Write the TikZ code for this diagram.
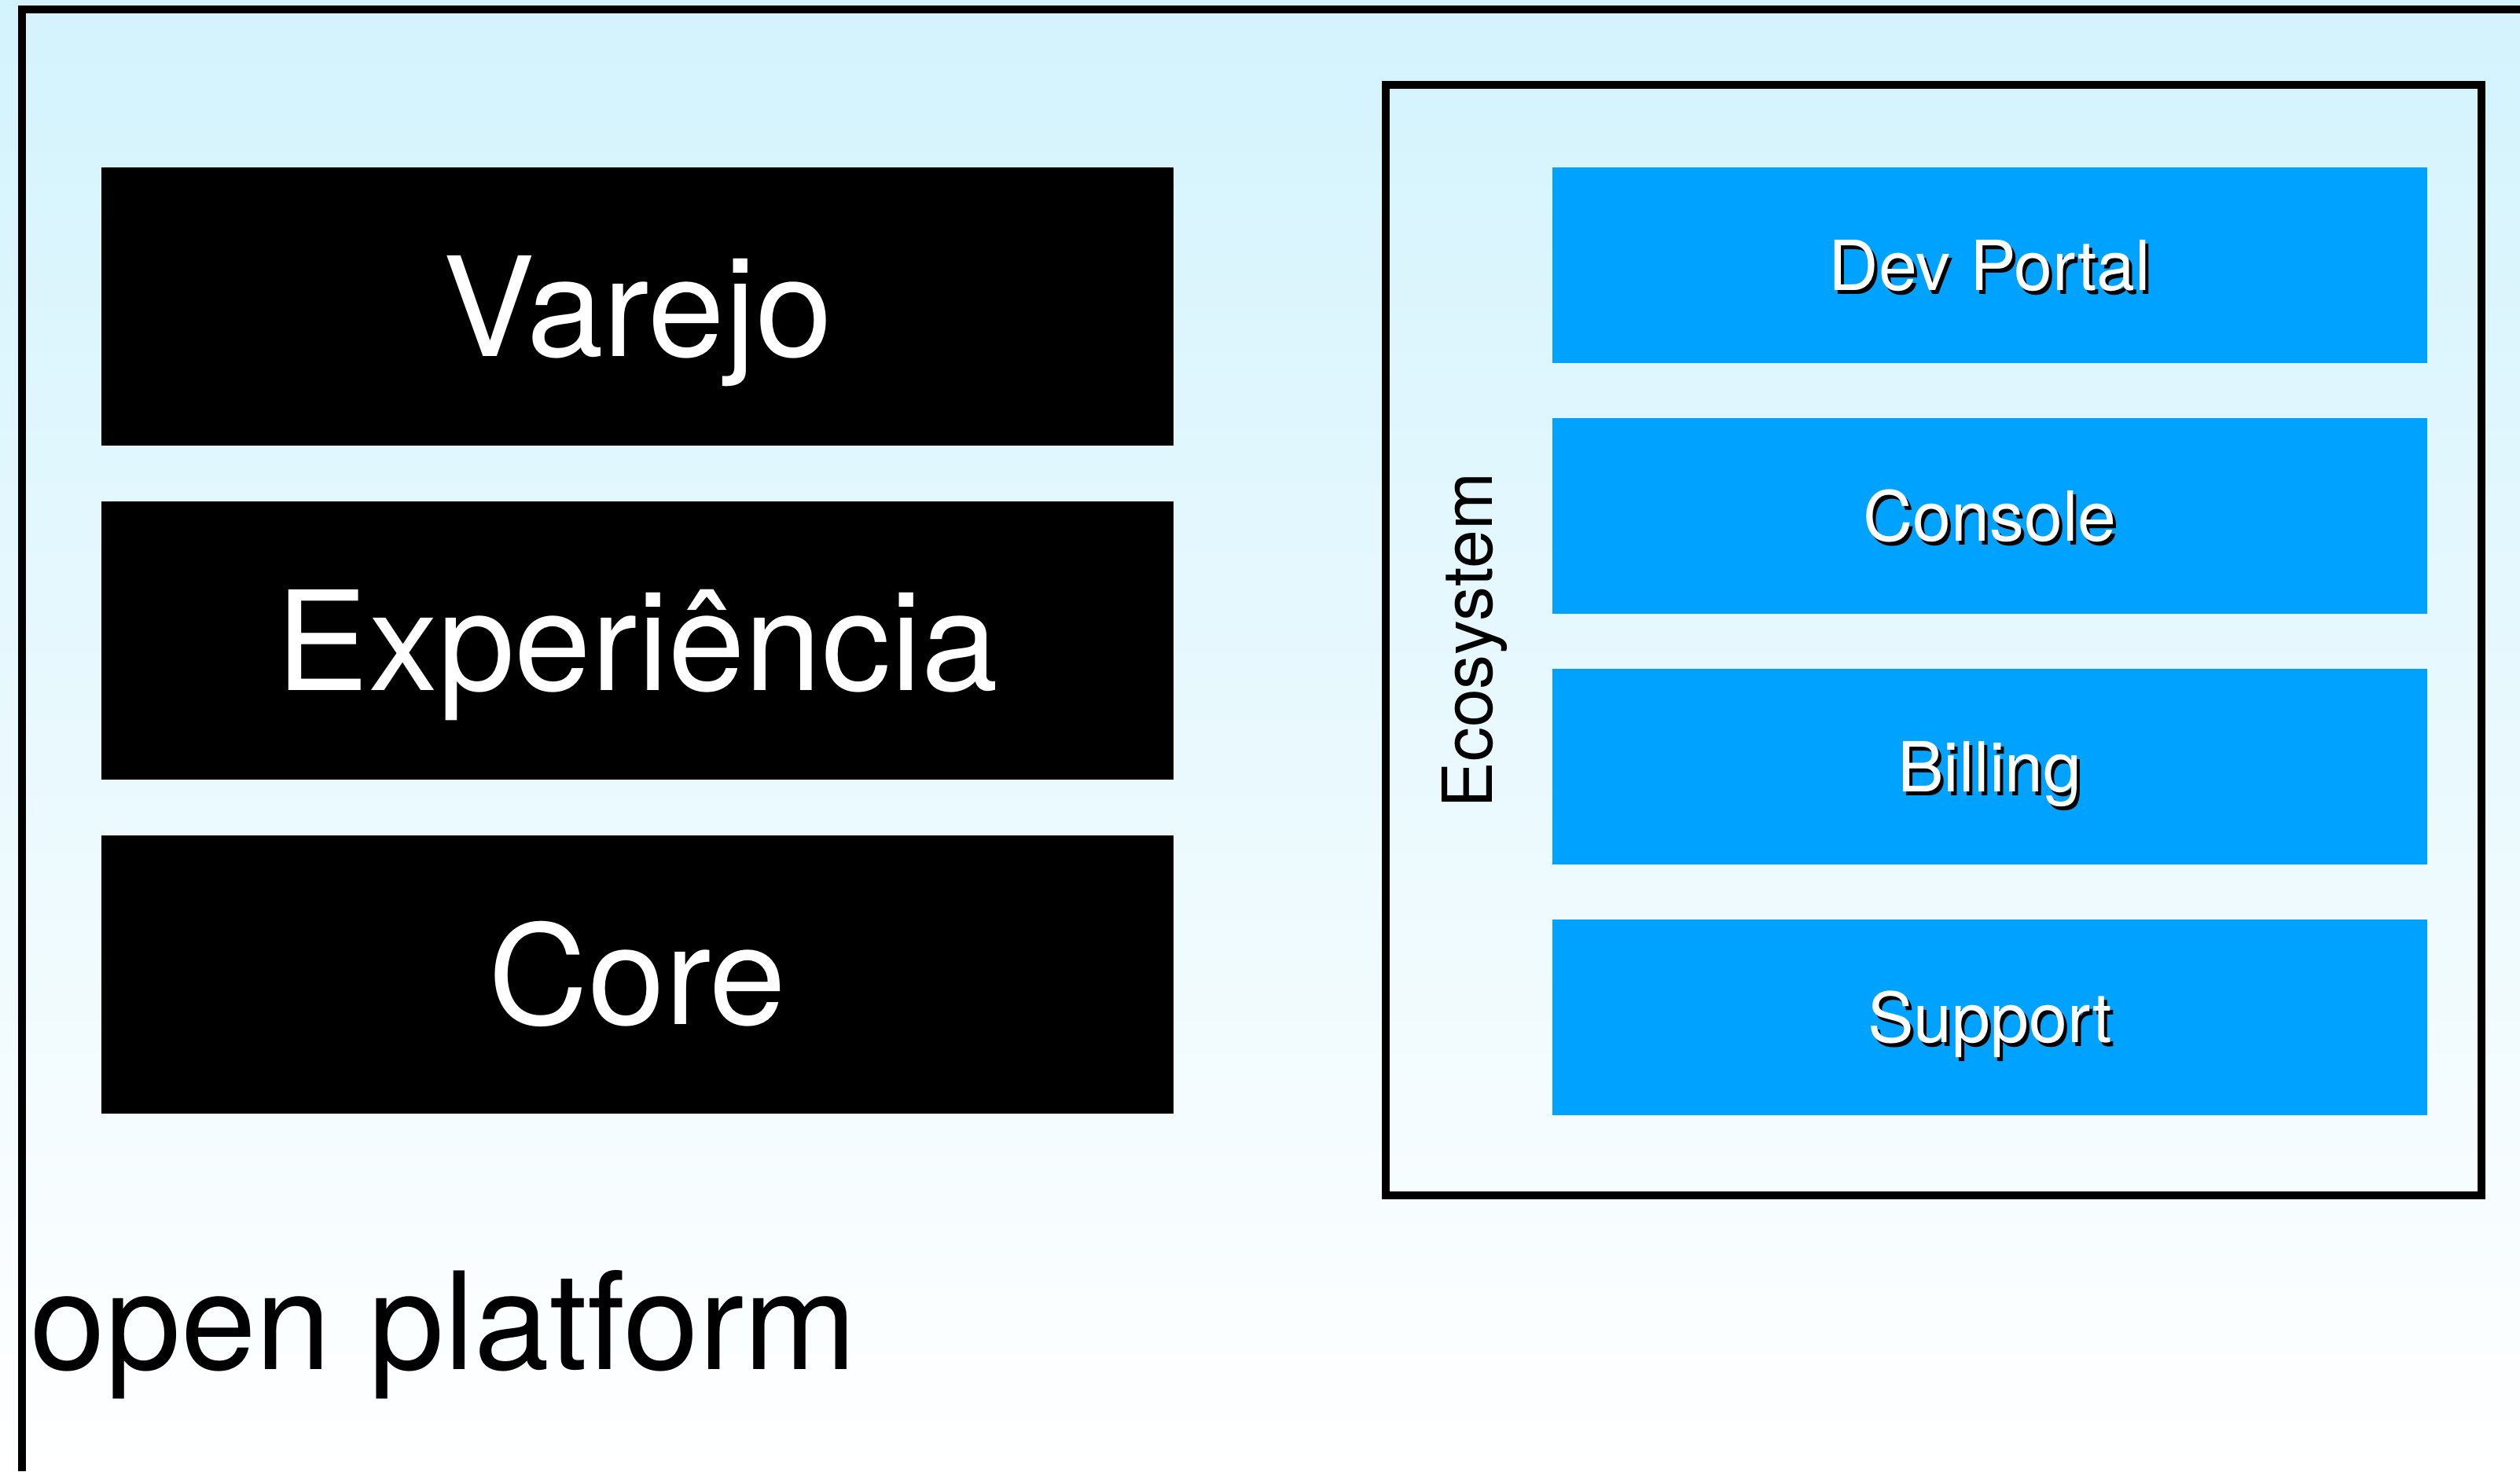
\documentclass[tikz,border=0pt]{standalone}
\usepackage{fontspec}
\setmainfont{TeX Gyre Heros}
\usetikzlibrary{positioning}
\definecolor{bgtop}{RGB}{211,243,253}
\definecolor{boxblue}{RGB}{0,162,255}
\newcommand{\shtext}[1]{\rlap{\kern0.04cm\raisebox{-0.05cm}{\color{black}#1}}#1}

\begin{document}
\begin{tikzpicture}[node distance=0.71cm,
  layer/.style={fill=black, text=white, inner sep=0pt, outer sep=0pt,
    minimum width=13.64cm, minimum height=3.54cm, text height=36pt, text depth=0pt,
    font=\fontsize{50}{58}\selectfont},
  svc/.style={fill=boxblue, text=white, inner sep=0pt, outer sep=0pt,
    minimum width=11.13cm, minimum height=2.49cm, text height=18pt, text depth=0pt,
    font=\fontsize{25}{30}\selectfont}]
\useasboundingbox (0,0) rectangle (32.06,18.72);
\fill[top color=bgtop, middle color=bgtop!85!white, bottom color=white] (0,0) rectangle (32.06,18.72);
\draw[line width=0.1cm] (0.28,0) -- (0.28,18.60) -- (32.06,18.60);

% left stack
\node[layer] (varejo) at (8.11,14.82) {Varejo};
\node[layer, below=of varejo] (exper) {Experiência};
\node[layer, below=of exper] (core) {Core};

% ecosystem
\node[draw, line width=0.1cm, minimum width=13.94cm, minimum height=14.13cm] (eco) at (24.60,10.575) {};
\node[rotate=90, font=\fontsize{25}{30}\selectfont] (ecolabel) at (18.76,10.57) {Ecosystem};
\node[svc, node distance=0.70cm] (dev) at (25.315,15.345) {\shtext{Dev Portal}};
\node[svc, node distance=0.70cm, below=of dev] (console) {\shtext{Console}};
\node[svc, node distance=0.70cm, below=of console] (billing) {\shtext{Billing}};
\node[svc, node distance=0.70cm, below=of billing] (support) {\shtext{Support}};

\node[anchor=base west, inner sep=0pt, font=\fontsize{49}{56}\selectfont] (title) at (0.38,1.30) {open platform};
\end{tikzpicture}
\end{document}
